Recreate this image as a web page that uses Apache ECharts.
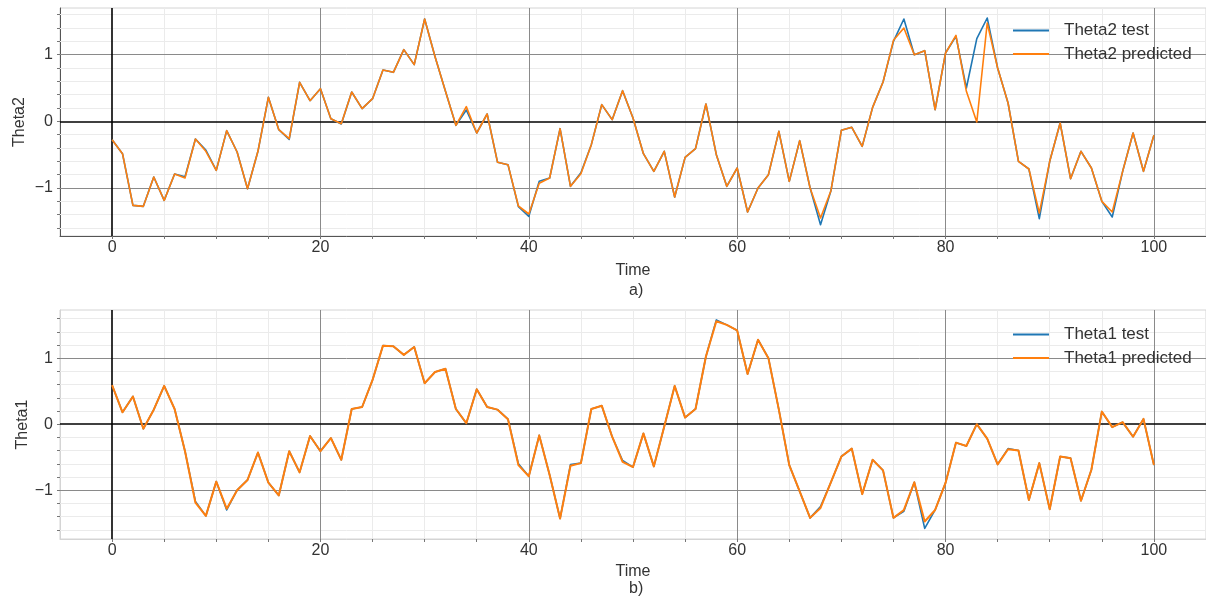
<!DOCTYPE html>
<html>
<head>
<meta charset="utf-8">
<script src="https://cdn.jsdelivr.net/npm/echarts@6/dist/echarts.min.js"></script>
<style>
html,body{margin:0;padding:0;background:#fff;}
#chart{width:1206px;height:599px;}
</style>
</head>
<body>
<div id="chart"></div>
<script>
const time = Array.from({length: 101}, (_, i) => i);

const theta2Test = [-0.275,-0.485,-1.26,-1.275,-0.835,-1.185,-0.79,-0.83,-0.265,-0.43,
-0.735,-0.14,-0.46,-1.01,-0.45,0.36,-0.125,-0.27,0.585,0.31,
0.49,0.04,-0.04,0.44,0.19,0.34,0.77,0.735,1.075,0.85,
1.535,0.97,0.45,-0.06,0.17,-0.175,0.11,-0.615,-0.65,-1.28,
-1.425,-0.9,-0.85,-0.11,-0.975,-0.77,-0.35,0.25,0.025,0.46,
0.05,-0.485,-0.75,-0.45,-1.135,-0.54,-0.41,0.26,-0.5,-0.975,
-0.7,-1.36,-1.0,-0.8,-0.15,-0.9,-0.29,-1.0,-1.55,-1.04,
-0.135,-0.09,-0.375,0.21,0.59,1.2,1.535,1.0,1.06,0.175,
1.025,1.275,0.5,1.24,1.55,0.8,0.275,-0.6,-0.715,-1.46,
-0.6,-0.025,-0.86,-0.45,-0.7,-1.2,-1.435,-0.75,-0.175,-0.75,
-0.21];

const theta2Pred = [-0.275,-0.485,-1.26,-1.275,-0.835,-1.185,-0.79,-0.85,-0.265,-0.45,
-0.735,-0.14,-0.46,-1.01,-0.45,0.36,-0.125,-0.26,0.585,0.31,
0.49,0.04,-0.035,0.44,0.19,0.34,0.77,0.735,1.075,0.85,
1.535,0.97,0.45,-0.06,0.22,-0.175,0.11,-0.615,-0.65,-1.27,
-1.39,-0.93,-0.85,-0.11,-0.975,-0.785,-0.35,0.25,0.025,0.46,
0.05,-0.485,-0.75,-0.45,-1.135,-0.54,-0.41,0.26,-0.5,-0.975,
-0.7,-1.36,-1.0,-0.8,-0.15,-0.9,-0.29,-1.0,-1.45,-1.04,
-0.135,-0.09,-0.375,0.21,0.59,1.215,1.40,1.0,1.06,0.175,
1.025,1.29,0.45,-0.01,1.475,0.8,0.275,-0.6,-0.715,-1.375,
-0.6,-0.025,-0.86,-0.45,-0.7,-1.2,-1.36,-0.75,-0.175,-0.75,
-0.21];

const theta1Test = [0.59,0.18,0.42,-0.07,0.22,0.58,0.23,-0.41,-1.17,-1.39,
-0.87,-1.3,-1.0,-0.845,-0.43,-0.885,-1.08,-0.41,-0.73,-0.18,
-0.41,-0.21,-0.54,0.23,0.26,0.67,1.19,1.18,1.05,1.17,
0.62,0.79,0.84,0.23,0.015,0.53,0.26,0.22,0.076,-0.6,
-0.79,-0.17,-0.77,-1.43,-0.61,-0.59,0.23,0.28,-0.19,-0.55,
-0.65,-0.14,-0.64,-0.035,0.58,0.10,0.23,1.025,1.58,1.505,
1.42,0.76,1.28,1.0,0.22,-0.62,-1.02,-1.42,-1.25,-0.88,
-0.49,-0.37,-1.06,-0.54,-0.70,-1.42,-1.32,-0.88,-1.58,-1.30,
-0.89,-0.28,-0.33,0.0,-0.22,-0.61,-0.37,-0.40,-1.15,-0.59,
-1.29,-0.49,-0.515,-1.16,-0.69,0.19,-0.045,0.03,-0.19,0.08,
-0.62];

const theta1Pred = [0.59,0.18,0.42,-0.07,0.22,0.58,0.23,-0.41,-1.19,-1.39,
-0.87,-1.28,-1.0,-0.845,-0.43,-0.885,-1.08,-0.41,-0.73,-0.18,
-0.41,-0.21,-0.54,0.23,0.26,0.67,1.19,1.18,1.05,1.17,
0.62,0.79,0.84,0.23,0.015,0.53,0.26,0.22,0.076,-0.62,
-0.79,-0.17,-0.77,-1.43,-0.63,-0.59,0.23,0.28,-0.19,-0.57,
-0.65,-0.14,-0.64,-0.035,0.58,0.10,0.23,1.025,1.56,1.505,
1.42,0.76,1.28,1.0,0.22,-0.62,-1.02,-1.42,-1.27,-0.88,
-0.49,-0.37,-1.06,-0.54,-0.70,-1.42,-1.30,-0.88,-1.475,-1.30,
-0.89,-0.28,-0.33,0.0,-0.22,-0.61,-0.38,-0.40,-1.15,-0.59,
-1.29,-0.49,-0.515,-1.16,-0.69,0.19,-0.045,0.03,-0.19,0.08,
-0.62];

const xTickLabels = [0, 20, 40, 60, 80, 100];
const xMinorTicks = [0,5,10,15,20,25,30,35,40,45,50,55,60,65,70,75,80,85,90,95,100];
const yTickLabels = [-1, 0, 1];
const yMinorTicks = [-1.6,-1.4,-1.2,-1,-0.8,-0.6,-0.4,-0.2,0,0.2,0.4,0.6,0.8,1,1.2,1.4,1.6];

const BLUE = '#1f77b4', ORANGE = '#ff7f0e';
const TXT = '#333333';
const FONT = 'Liberation Sans, Arial, Helvetica, sans-serif';

function pairs(ys) { return time.map((t, i) => [t, ys[i]]); }

function gridLines() {
  const out = [];
  xMinorTicks.forEach(v => {
    let ls;
    if (v === 0) ls = {color: '#000', width: 1.6, type: 'solid'};
    else if (xTickLabels.indexOf(v) >= 0) ls = {color: '#8a8a8a', width: 1, type: 'solid'};
    else ls = {color: '#ebebeb', width: 1, type: 'solid'};
    out.push({xAxis: v, lineStyle: ls});
  });
  yMinorTicks.forEach(v => {
    let ls;
    if (Math.abs(v) < 1e-9) ls = {color: '#000', width: 1.6, type: 'solid'};
    else if (Math.abs(Math.abs(v) - 1) < 1e-9) ls = {color: '#8a8a8a', width: 1, type: 'solid'};
    else ls = {color: '#ebebeb', width: 1, type: 'solid'};
    out.push({yAxis: v, lineStyle: ls});
  });
  const rank = d => d.lineStyle.color === '#000' ? 2 : (d.lineStyle.color === '#8a8a8a' ? 1 : 0);
  out.sort((a, b) => rank(a) - rank(b));
  return out;
}

const fmtY = v => (v < 0 ? '\u2212' + Math.abs(v) : String(v));

function xAxisCfg(gi, dark) {
  return {
    type: 'value', gridIndex: gi, min: -5, max: 105,
    name: 'Time', nameLocation: 'middle', nameGap: gi === 0 ? 27 : 25, nameMoveOverlap: false,
    nameTextStyle: {color: TXT, fontSize: 16, fontFamily: FONT},
    axisLine: {show: true, onZero: false, lineStyle: {color: dark ? '#555' : '#d4d4d4', width: 1}},
    axisTick: {show: true, length: 3, customValues: xMinorTicks, lineStyle: {color: '#777'}},
    axisLabel: {show: true, customValues: xTickLabels, color: TXT, fontSize: 16, fontFamily: FONT, margin: 4},
    splitLine: {show: false}
  };
}
function yAxisCfg(gi, name, min, max, dark, gap) {
  return {
    type: 'value', gridIndex: gi, min: min, max: max,
    name: name, nameLocation: 'middle', nameGap: gap, nameMoveOverlap: false,
    nameTextStyle: {color: TXT, fontSize: 16, fontFamily: FONT},
    axisLine: {show: true, onZero: false, lineStyle: {color: dark ? '#555' : '#d4d4d4', width: 1}},
    axisTick: {show: true, length: 3, customValues: yMinorTicks, lineStyle: {color: '#777'}},
    axisLabel: {show: true, customValues: yTickLabels, formatter: fmtY, color: TXT, fontSize: 16, fontFamily: FONT, margin: 7},
    splitLine: {show: false}
  };
}

function helper(gi, ys) {
  return {
    type: 'line', xAxisIndex: gi, yAxisIndex: gi, data: pairs(ys), z: 1,
    symbol: 'none', silent: true, lineStyle: {opacity: 0, width: 0},
    markLine: {silent: true, z: 1, symbol: ['none', 'none'], label: {show: false},
      emphasis: {disabled: true}, animation: false, data: gridLines()}
  };
}

function lineSeries(gi, name, ys, color, w, z) {
  return {
    type: 'line', name: name, xAxisIndex: gi, yAxisIndex: gi, data: pairs(ys), z: z,
    symbol: 'none', showSymbol: false, smooth: false,
    lineStyle: {color: color, width: w, join: 'round'}, itemStyle: {color: color},
    emphasis: {disabled: true}
  };
}

const legendIcon = 'path://M0,6 L36,6 L36,8 L0,8 Z';
const chart = echarts.init(document.getElementById('chart'), null, {renderer: 'canvas'});
chart.setOption({
  animation: false,
  backgroundColor: '#ffffff',
  grid: [
    {left: 60, top: 8, right: -3, height: 228, show: true, borderColor: '#d4d4d4', borderWidth: 1, backgroundColor: 'transparent'},
    {left: 60, top: 310, right: -3, height: 229, show: true, borderColor: '#d4d4d4', borderWidth: 1, backgroundColor: 'transparent'}
  ],
  xAxis: [xAxisCfg(0, true), xAxisCfg(1, false)],
  yAxis: [yAxisCfg(0, 'Theta2', -1.72, 1.70, true, 32), yAxisCfg(1, 'Theta1', -1.74, 1.73, false, 29)],
  legend: [
    {data: ['Theta2 test', 'Theta2 predicted'], orient: 'vertical', left: 1013, top: 21, padding: 0,
     itemWidth: 36, itemHeight: 14, itemGap: 4.5, icon: legendIcon,
     textStyle: {color: TXT, fontSize: 17, fontFamily: FONT, lineHeight: 19, padding: [0, 0, 0, 10]}},
    {data: ['Theta1 test', 'Theta1 predicted'], orient: 'vertical', left: 1013, top: 325, padding: 0,
     itemWidth: 36, itemHeight: 14, itemGap: 4.5, icon: legendIcon,
     textStyle: {color: TXT, fontSize: 17, fontFamily: FONT, lineHeight: 19, padding: [0, 0, 0, 10]}}
  ],
  graphic: [
    {type: 'text', left: 629, top: 283, style: {text: 'a)', fill: TXT, font: '16px ' + FONT}},
    {type: 'text', left: 629, top: 581, style: {text: 'b)', fill: TXT, font: '16px ' + FONT}}
  ],
  series: [
    helper(0, theta2Test),
    lineSeries(0, 'Theta2 test', theta2Test, BLUE, 1.6, 3),
    lineSeries(0, 'Theta2 predicted', theta2Pred, ORANGE, 1.6, 4),
    helper(1, theta1Test),
    lineSeries(1, 'Theta1 test', theta1Test, BLUE, 1.6, 3),
    lineSeries(1, 'Theta1 predicted', theta1Pred, ORANGE, 2, 4)
  ]
});
</script>
</body>
</html>
